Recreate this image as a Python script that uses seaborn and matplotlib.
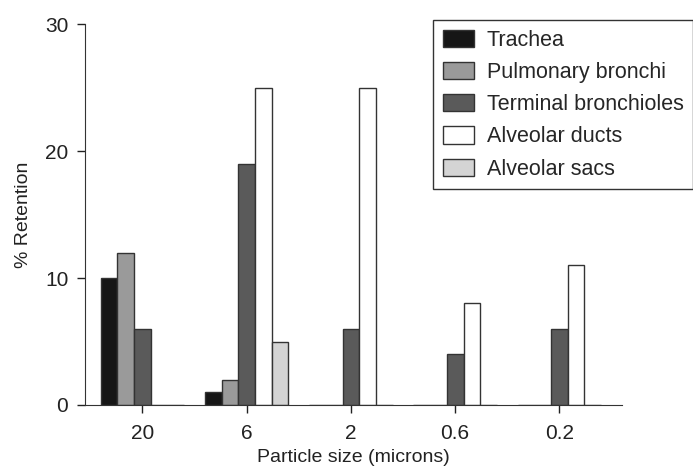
import seaborn as sns
import matplotlib.pyplot as plt
import pandas as pd

sizes = ['20', '6', '2', '0.6', '0.2']
regions = ['Trachea', 'Pulmonary bronchi', 'Terminal bronchioles',
           'Alveolar ducts', 'Alveolar sacs']
trachea = [10, 1, 0, 0, 0]
pulmonary = [12, 2, 0, 0, 0]
terminal = [6, 19, 6, 4, 6]
ducts = [0, 25, 25, 8, 11]
sacs = [0, 5, 0, 0, 0]
colors = ['#161616', '#9a9a9a', '#5a5a5a', '#ffffff', '#d4d4d4']

rows = []
for region, vals in zip(regions, [trachea, pulmonary, terminal, ducts, sacs]):
    for s, v in zip(sizes, vals):
        rows.append({'size': s, 'region': region, 'retention': v})
df = pd.DataFrame(rows)

sns.set_style('ticks')
plt.rcParams['font.family'] = ['Liberation Sans', 'DejaVu Sans']

fig = plt.figure(figsize=(6.93, 4.72), dpi=100)
ax = fig.add_axes([85 / 693, 67 / 472, 537 / 693, 381 / 472])

sns.barplot(data=df, x='size', y='retention', hue='region', order=sizes,
            hue_order=regions, palette=colors, edgecolor='#333333',
            linewidth=1, width=0.8, errorbar=None, ax=ax)

ax.set_xlim(-0.55, 4.6)
ax.set_ylim(0, 30)
ax.set_yticks([0, 10, 20, 30])
ax.set_xlabel('Particle size (microns)', fontsize=14, color='#222222',
              labelpad=4)
ax.set_ylabel('% Retention', fontsize=14, color='#222222', labelpad=9)
ax.tick_params(labelsize=15, colors='#222222', length=6, width=1)
ax.tick_params(axis='x', pad=8)
ax.tick_params(axis='y', pad=6)
for side in ['top', 'right']:
    ax.spines[side].set_visible(False)
for side in ['left', 'bottom']:
    ax.spines[side].set_color('#333333')

handles, labels = ax.get_legend_handles_labels()
ax.legend(handles, labels, loc='upper left',
          bbox_to_anchor=(433 / 693, 1 - 20 / 472),
          bbox_transform=fig.transFigure, fontsize=15.5, frameon=True,
          fancybox=False, edgecolor='#333333', framealpha=1,
          handlelength=1.45, handleheight=0.85, labelspacing=0.52,
          borderpad=0.45, handletextpad=0.6, borderaxespad=0)

fig.savefig('out.png', dpi=100)
